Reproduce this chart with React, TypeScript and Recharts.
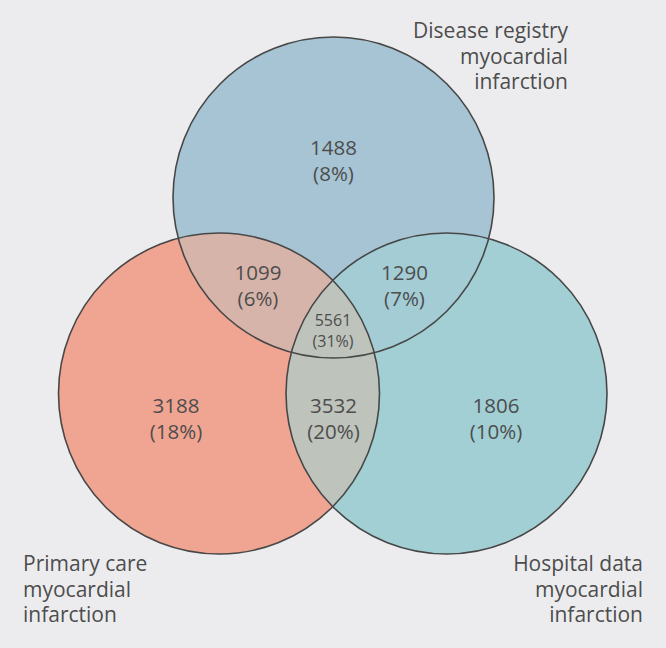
import { Scatter, ScatterChart, XAxis, YAxis, ZAxis } from "recharts";

const W = 666;
const H = 648;

// the three sets (circle centre and radius in chart units)
const setIds = ["registry", "primary", "hospital"];
const setTitles = ["Disease registry", "Primary care", "Hospital data"];
const setX = [333.5, 219, 446.5];
const setY = [197.5, 393.5, 393.5];
const setR = [160.5, 160.5, 160.5];

// where each set's name sits
const setLabelX = [568, 23, 643];
const setLabelY = [38, 571, 571];

// the seven regions
const regionCounts = [1488, 1099, 1290, 5561, 3188, 3532, 1806];
const regionPercents = [8, 6, 7, 31, 18, 20, 10];
const regionX = [333.5, 258, 404.5, 333, 176, 333.5, 496];
const regionY = [161, 286, 286, 330, 419, 419, 419];

// pairwise overlaps: [set clipped against, set drawn]
const overlapPairs = [
  [0, 1],
  [0, 2],
  [1, 2],
];

const setFill = ["#a6c4d3", "#f0a592", "#a1cfd4"];
const overlapFill = ["#d7b4aa", "#a3ccd5", "#bec3bc"];
const anchors = ["end", "start", "end"];
const textColor = "#4d4d4d";
const font = "'Open Sans', 'Noto Sans', sans-serif";

const circles = setIds.map((id, i) => ({
  id,
  x: setX[i],
  y: setY[i],
  area: Math.PI * setR[i] * setR[i],
  fill: setFill[i],
}));

const overlaps = overlapPairs.map(([a, b], i) => ({
  clip: setIds[a],
  x: setX[b],
  y: setY[b],
  area: Math.PI * setR[b] * setR[b],
  fill: overlapFill[i],
}));

const regions = regionCounts.map((c, i) => ({
  x: regionX[i],
  y: regionY[i],
  count: c,
  pct: regionPercents[i],
  small: c === 5561,
}));

const setLabels = setTitles.map((t, i) => ({
  x: setLabelX[i],
  y: setLabelY[i],
  lines: [t, "myocardial", "infarction"],
  anchor: anchors[i],
}));

const radiusOf = (p: any) => p.width / 2;

function CircleShape(props: any) {
  const r = radiusOf(props);
  return (
    <g>
      <defs>
        <clipPath id={`clip-${props.payload.id}`}>
          <circle cx={props.cx} cy={props.cy} r={r} />
        </clipPath>
      </defs>
      <circle cx={props.cx} cy={props.cy} r={r} fill={props.payload.fill} />
    </g>
  );
}

function OverlapShape(props: any) {
  return (
    <circle
      cx={props.cx}
      cy={props.cy}
      r={radiusOf(props)}
      fill={props.payload.fill}
      clipPath={`url(#clip-${props.payload.clip})`}
    />
  );
}

function OutlineShape(props: any) {
  return (
    <circle
      cx={props.cx}
      cy={props.cy}
      r={radiusOf(props)}
      fill="none"
      stroke="#474747"
      strokeWidth={1.6}
    />
  );
}

function RegionLabel(props: any) {
  const { cx, cy, payload } = props;
  const fs = payload.small ? 16 : 20.5;
  const up = payload.small ? 4.5 : 6;
  const down = payload.small ? 16.5 : 20;
  return (
    <g fontSize={fs} fontFamily={font} fill={textColor}>
      <text x={cx} y={cy - up} textAnchor="middle">
        {payload.count}
      </text>
      <text x={cx} y={cy + down} textAnchor="middle">
        ({payload.pct}%)
      </text>
    </g>
  );
}

function SetLabel(props: any) {
  const { cx, cy, payload } = props;
  return (
    <text textAnchor={payload.anchor} fontSize={21} fontFamily={font} fill={textColor}>
      {payload.lines.map((l: string, i: number) => (
        <tspan key={i} x={cx} y={cy + i * 25.5}>
          {l}
        </tspan>
      ))}
    </text>
  );
}

export default function App() {
  return (
    <div
      style={{
        position: "fixed",
        left: 0,
        top: 0,
        width: W,
        height: H,
        background: "#ececee",
      }}
    >
      <ScatterChart width={W} height={H} margin={{ top: 0, right: 0, bottom: 0, left: 0 }}>
        <XAxis type="number" dataKey="x" domain={[0, W]} hide />
        <YAxis type="number" dataKey="y" domain={[0, H]} reversed hide />
        <ZAxis type="number" dataKey="area" domain={[0, 100000]} range={[0, 100000]} />
        <Scatter data={circles} shape={CircleShape} isAnimationActive={false} />
        <Scatter data={overlaps} shape={OverlapShape} isAnimationActive={false} />
        <Scatter data={circles} shape={OutlineShape} isAnimationActive={false} />
        <Scatter data={regions} shape={RegionLabel} isAnimationActive={false} />
        <Scatter data={setLabels} shape={SetLabel} isAnimationActive={false} />
      </ScatterChart>
    </div>
  );
}
